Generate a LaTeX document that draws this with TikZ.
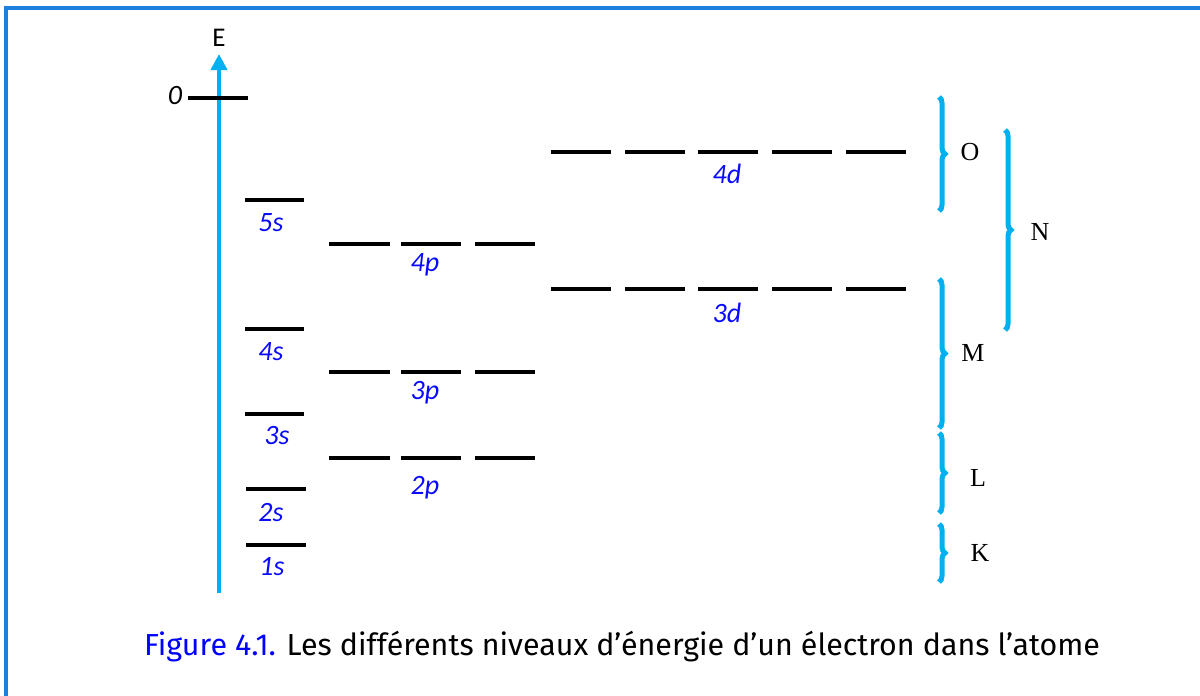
\documentclass[tikz,border=0pt]{standalone}
\usepackage{fontspec}
\setmainfont{Carlito}
\newfontfamily\shellfont{Liberation Serif}
\newfontfamily\capfont{Fira Sans}
\usetikzlibrary{decorations.pathreplacing,arrows.meta}
\definecolor{axcyan}{RGB}{0,176,240}
\definecolor{framec}{RGB}{30,128,220}
\definecolor{lblue}{RGB}{10,10,255}
\tikzset{
  lvl/.style={line width=2pt,black},
  orb/.style={font=\fontsize{14}{16}\selectfont\itshape,text=lblue,inner sep=0pt,anchor=center},
  shell/.style={font=\shellfont\fontsize{13}{15}\selectfont,inner sep=0pt},
  shellbrace/.style={axcyan,line width=2.5pt,decorate,decoration={brace,amplitude=3pt,aspect=0.5}},
  axisline/.style={axcyan,line width=2pt,-{Triangle[length=8pt,width=8pt]}},
  framel/.style={framec,line width=1.6pt}
}
\begin{document}
\begin{tikzpicture}[x=0.5pt,y=-0.5pt]
\useasboundingbox (0,0) rectangle (1200,696);
% frame
\coordinate (f1) at (6,696);
\coordinate (f2) at (6,8);
\coordinate (f3) at (1200,8);
\draw[framel] (f1) -- (f2) -- (f3);
% energy axis
\node[font=\fontsize{13.5}{15}\selectfont,inner sep=0pt] (E) at (219,38) {E};
\coordinate (axb) at (219,593);
\coordinate (axt) at (219,54);
\draw[axisline] (axb) -- (axt);
% zero level
\draw[lvl] (188,98) -- (248,98);
\node[font=\fontsize{14}{16}\selectfont\itshape,inner sep=0pt] (zero) at (175,96) {0};
% s levels
\draw[lvl] (245,200) -- (304,200);
\node[orb] (s5) at (271,223) {5s};
\draw[lvl] (245,329) -- (304,329);
\node[orb] (s4) at (271,352) {4s};
\draw[lvl] (245,414) -- (304,414);
\node[orb] (s3) at (277,436) {3s};
\draw[lvl] (246,489) -- (306,489);
\node[orb] (s2) at (271,513) {2s};
\draw[lvl] (246,545) -- (306,545);
\node[orb] (s1) at (272,567) {1s};
% p levels
\foreach \y/\n in {244/4,372/3,458/2}{
  \draw[lvl] (329,\y) -- (390,\y);
  \draw[lvl] (401,\y) -- (461,\y);
  \draw[lvl] (475,\y) -- (535,\y);
}
\node[orb] (p4) at (425,265) {4p};
\node[orb] (p3) at (425,393) {3p};
\node[orb] (p2) at (425,488) {2p};
% d levels
\foreach \y in {152,289}{
  \draw[lvl] (551,\y) -- (611,\y);
  \draw[lvl] (625,\y) -- (685,\y);
  \draw[lvl] (698,\y) -- (758,\y);
  \draw[lvl] (772,\y) -- (832,\y);
  \draw[lvl] (846,\y) -- (906,\y);
}
\node[orb] (d4) at (727,174) {4d};
\node[orb] (d3) at (727,313) {3d};
% braces
\coordinate (Ot) at (939,97);  \coordinate (Ob) at (939,211);
\coordinate (Nt) at (1005,130); \coordinate (Nb) at (1005,330);
\coordinate (Mt) at (939,279); \coordinate (Mb) at (939,428);
\coordinate (Lt) at (939,433); \coordinate (Lb) at (939,513);
\coordinate (Kt) at (939,524); \coordinate (Kb) at (939,582);
\draw[shellbrace] (Ot) -- (Ob);
\draw[shellbrace] (Nt) -- (Nb);
\draw[shellbrace] (Mt) -- (Mb);
\draw[shellbrace] (Lt) -- (Lb);
\draw[shellbrace] (Kt) -- (Kb);
\node[shell] (O) at (970,152) {O};
\node[shell] (N) at (1040,232) {N};
\node[shell] (M) at (973,353) {M};
\node[shell] (L) at (978,478) {L};
\node[shell] (K) at (980,553) {K};
% caption
\node[font=\capfont\fontsize{15.2}{18}\selectfont,inner sep=0pt] (cap) at (622,647)
  {\textcolor{blue}{Figure 4.1.} Les différents niveaux d’énergie d’un électron dans l’atome};
\end{tikzpicture}
\end{document}
